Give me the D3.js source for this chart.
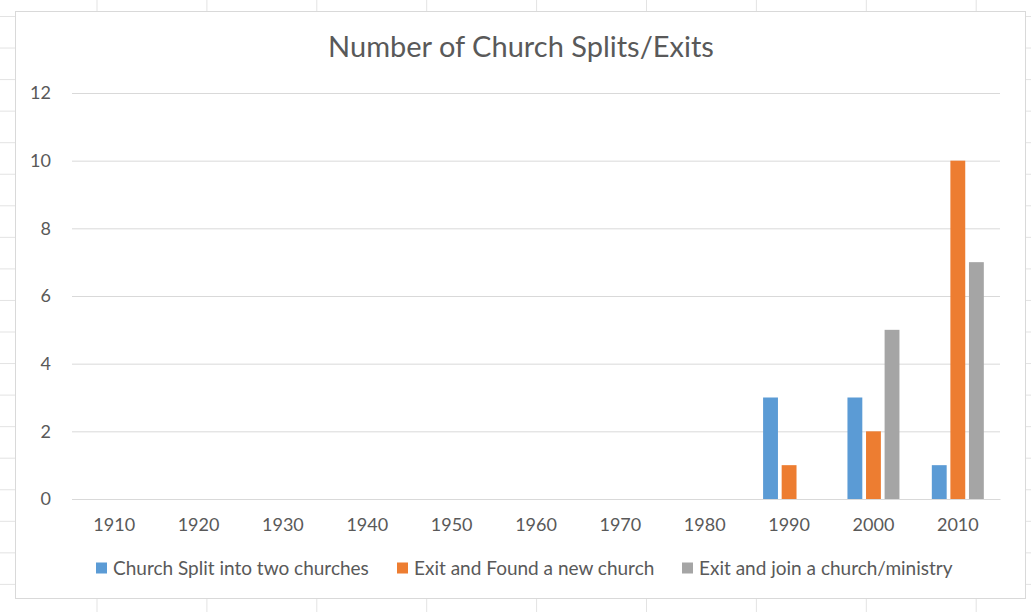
<!DOCTYPE html>
<html>
<head>
<meta charset="utf-8">
<script src="https://cdn.jsdelivr.net/npm/d3@7"></script>
<style>
  body { margin: 0; background: #fff; }
  svg { display: block; font-family: Lato, 'Open Sans', sans-serif; }
</style>
</head>
<body>
<div id="chart"></div>
<script>
const title = 'Number of Church Splits/Exits'
const decades = ['1910', '1920', '1930', '1940', '1950', '1960', '1970', '1980', '1990', '2000', '2010']
const seriesNames = ['Church Split into two churches', 'Exit and Found a new church', 'Exit and join a church/ministry']
const splitTwo = [0, 0, 0, 0, 0, 0, 0, 0, 3, 3, 1]
const foundNew = [0, 0, 0, 0, 0, 0, 0, 0, 1, 2, 10]
const joinOther = [0, 0, 0, 0, 0, 0, 0, 0, 0, 5, 7]
const yTicks = [0, 2, 4, 6, 8, 10, 12]
const colors = ['#5b9bd5', '#ed7d31', '#a5a5a5']

const W = 1031, H = 612
const frame = {left: 15.5, top: 11.5, right: 1025.5, bottom: 598.5}
const plot = {left: 72, right: 1000, top: 93, bottom: 499}

const svg = d3.select('#chart').append('svg')
  .attr('width', W)
  .attr('height', H)

// worksheet cell grid behind the chart
const colLines = d3.range(97, W, 109.9)
const rowLines = d3.range(16.5, H, 31.55)
svg.append('g').selectAll('line').data(colLines).enter().append('line')
  .attr('x1', (d) => d).attr('x2', (d) => d).attr('y1', 0).attr('y2', H)
  .attr('stroke', '#e3e3e3')
svg.append('g').selectAll('line').data(rowLines).enter().append('line')
  .attr('x1', 0).attr('x2', W).attr('y1', (d) => d).attr('y2', (d) => d)
  .attr('stroke', '#e3e3e3')

svg.append('rect')
  .attr('x', frame.left).attr('y', frame.top)
  .attr('width', frame.right - frame.left).attr('height', frame.bottom - frame.top)
  .attr('fill', '#fff').attr('stroke', '#d9d9d9')

svg.append('text')
  .attr('x', 521).attr('y', 57)
  .attr('text-anchor', 'middle')
  .attr('font-size', 29)
  .attr('fill', '#595959')
  .text(title)

const x0 = d3.scaleBand().domain(decades).range([plot.left, plot.right])
const y = d3.scaleLinear().domain([0, 12]).range([plot.bottom, plot.top])
const groupW = 52
const x1 = d3.scaleBand().domain(seriesNames)
  .range([(x0.bandwidth() - groupW) / 2, (x0.bandwidth() + groupW) / 2])
  .paddingInner(0.2)

// gridlines
svg.append('g')
  .attr('transform', `translate(${plot.left},0)`)
  .call(d3.axisLeft(y).tickValues(yTicks).tickSize(-(plot.right - plot.left)).tickPadding(21))
  .call((g) => g.select('.domain').remove())
  .call((g) => g.selectAll('line').attr('stroke', '#d9d9d9'))
  .call((g) => g.selectAll('text').attr('fill', '#595959').attr('font-size', 18).attr('font-family', 'Lato'))

svg.append('g')
  .attr('transform', `translate(0,${plot.bottom})`)
  .call(d3.axisBottom(x0).tickSize(0).tickPadding(19))
  .call((g) => g.select('.domain').attr('stroke', '#d9d9d9'))
  .call((g) => g.selectAll('text').attr('fill', '#595959').attr('font-size', 18).attr('font-family', 'Lato'))

const values = [splitTwo, foundNew, joinOther]
const data = []
decades.forEach((d, i) => {
  seriesNames.forEach((s, j) => {
    data.push({decade: d, series: s, v: values[j][i], c: colors[j]})
  })
})

svg.append('g').selectAll('rect')
  .data(data.filter((d) => d.v > 0))
  .enter()
    .append('rect')
    .attr('x', (d) => x0(d.decade) + x1(d.series))
    .attr('y', (d) => y(d.v))
    .attr('width', x1.bandwidth())
    .attr('height', (d) => y(0) - y(d.v))
    .attr('fill', (d) => d.c)

// legend
const legendX = [96, 397, 682]
const legend = svg.append('g').selectAll('g')
  .data(seriesNames)
  .enter()
    .append('g')
    .attr('transform', (d, i) => `translate(${legendX[i]},568)`)
legend.append('rect')
  .attr('x', 0).attr('y', -5.5).attr('width', 11).attr('height', 11)
  .attr('fill', (d, i) => colors[i])
legend.append('text')
  .attr('x', 17).attr('y', 0).attr('dy', '0.35em')
  .attr('font-size', 19)
  .attr('fill', '#595959')
  .text((d) => d)
</script>
</body>
</html>
